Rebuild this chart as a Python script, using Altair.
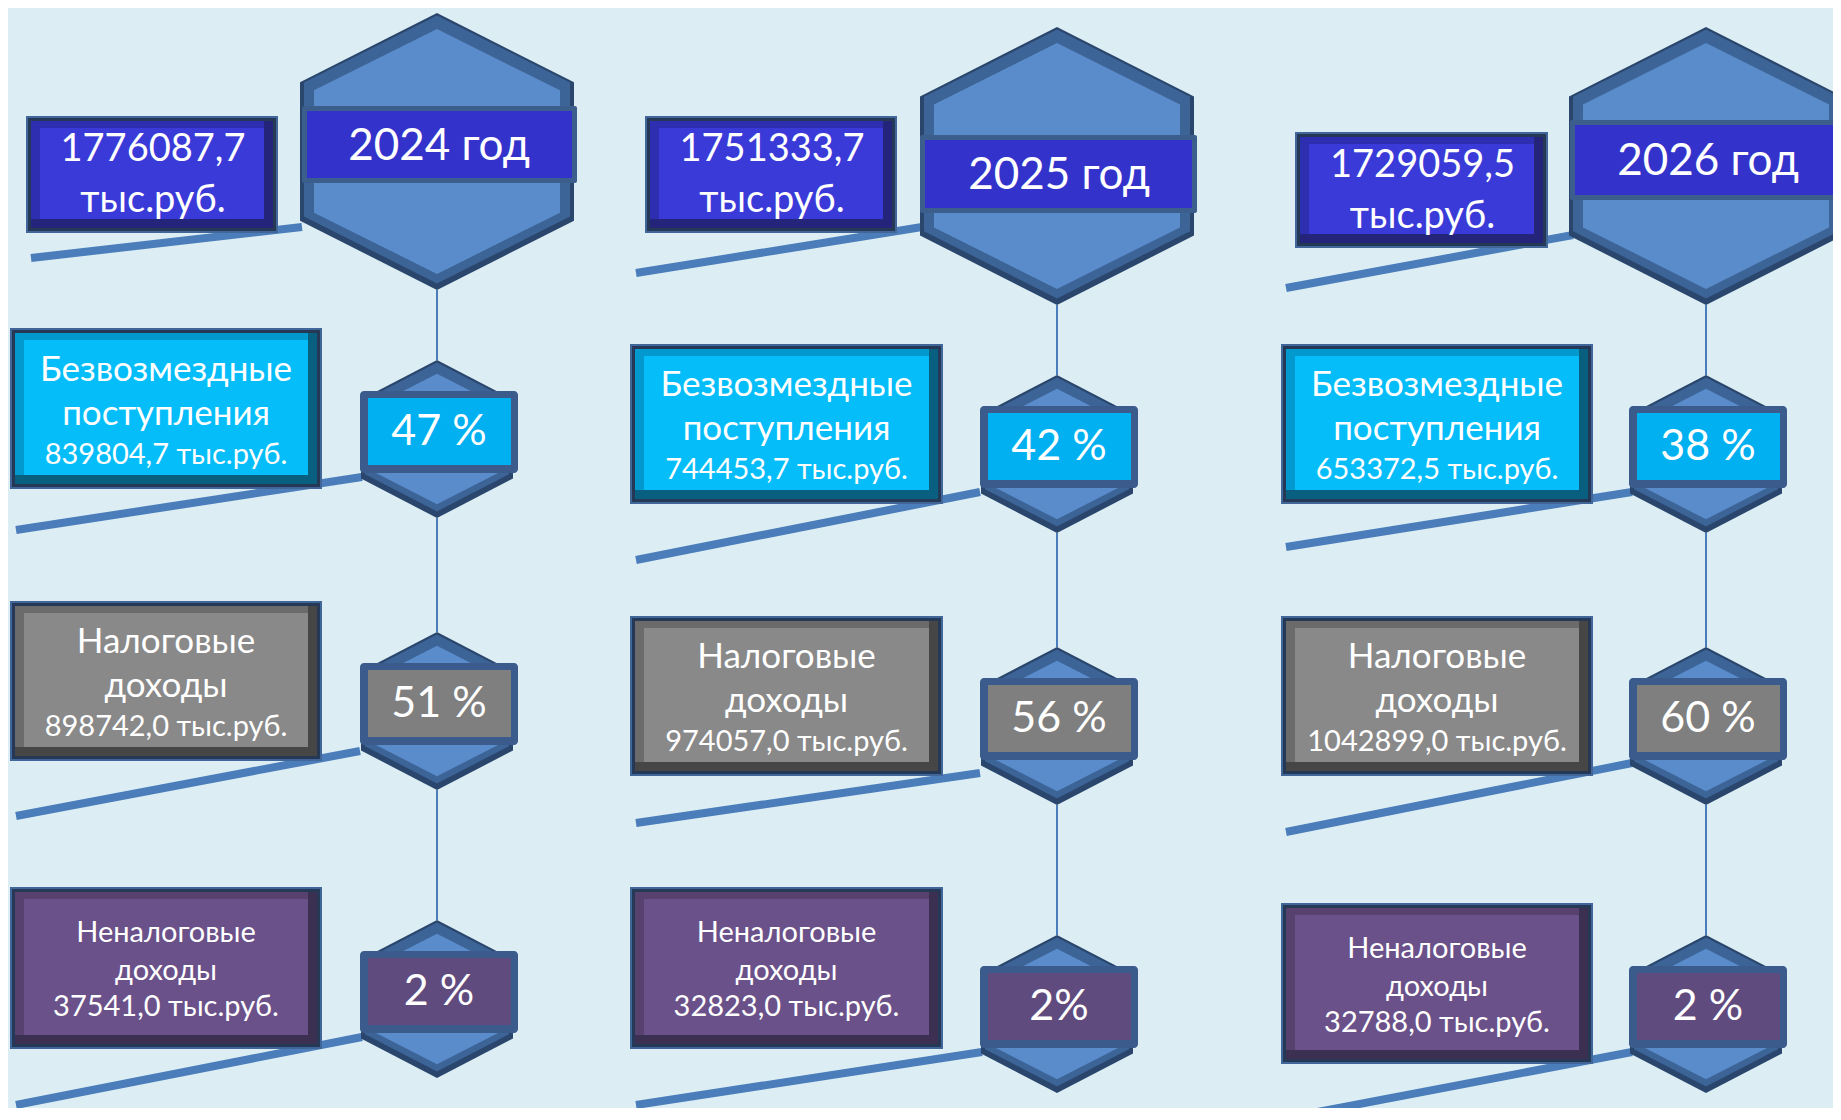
import altair as alt
import pandas as pd

# ---------------- data ----------------
years = ["2024 год", "2025 год", "2026 год"]
totals = ["1776087,7", "1751333,7", "1729059,5"]
total_unit = "тыс.руб."
cat_line1 = ["Безвозмездные", "Налоговые", "Неналоговые"]
cat_line2 = ["поступления", "доходы", "доходы"]
amounts = [["839804,7", "898742,0", "37541,0"],
           ["744453,7", "974057,0", "32823,0"],
           ["653372,5", "1042899,0", "32788,0"]]
percents = [["47 %", "51 %", "2 %"],
            ["42 %", "56 %", "2%"],
            ["38 %", "60 %", "2 %"]]

# ---------------- layout (reference pixel space) ----------------
W, H, M = 1841, 1120, 8
VW, VH = W - 2 * M, H - 2 * M - 4      # visible chart area so the page never overflows
col_cx = [437, 1057, 1706]
big_top = [13, 27, 27]
big_bot = [290, 305, 305]
big_hw = 137
year_box = [(302, 577, 106, 183), (920, 1197, 135, 213), (1570, 1850, 120, 200)]
total_box = [(27, 277, 117, 232), (646, 896, 117, 232), (1296, 1547, 133, 247)]
top_conn = [(31, 258, 302, 227), (636, 273, 922, 227), (1286, 288, 1573, 235)]
cat_x = [(11, 321), (631, 942), (1282, 1592)]
cat_y = [[(329, 488), (602, 760), (888, 1048)],
         [(345, 503), (617, 775), (888, 1048)],
         [(345, 503), (617, 775), (904, 1063)]]
hex_top = [[360, 632, 920], [375, 647, 935], [375, 647, 935]]
hex_h, hex_hw = 158, 76
row_conn = [[(16, 530, 362, 477), (16, 816, 360, 751), (16, 1105, 362, 1037)],
            [(636, 560, 980, 492), (636, 823, 980, 773), (636, 1105, 982, 1052)],
            [(1286, 547, 1632, 492), (1286, 832, 1632, 763), (1286, 1118, 1632, 1052)]]

# styles
BG = "#DCEEF4"
LINE = "#4A7DBA"
FRAME = "#253957"
FRAME_EDGE = "#41679A"
HEX_OUT, HEX_MID, HEX_FACE = "#2A466C", "#3C6497", "#5A8BCB"
cat_face = ["#05BDF8", "#898989", "#6A5189"]
cat_light = ["#0399CF", "#6B6B6B", "#56416F"]
cat_dark = ["#085F7F", "#464646", "#3B2F52"]
pct_face = ["#00B0F0", "#7F7F7F", "#604B7E"]
PCT_EDGE = "#3A5B8C"
TOT_FACE, TOT_LIGHT, TOT_DARK = "#3A3AD9", "#2E2EB0", "#24247A"
YEAR_FACE, YEAR_EDGE = "#3333CC", "#3B5E8C"
FONT = "Lato"

xs = alt.Scale(domain=[M, M + VW], zero=False, nice=False)
ys = alt.Scale(domain=[M, M + VH], zero=False, nice=False, reverse=True)


def X(f):
    return alt.X(f, type="quantitative", scale=xs, axis=None)


def Y(f):
    return alt.Y(f, type="quantitative", scale=ys, axis=None)


def rects(records, **mk):
    df = pd.DataFrame(records)
    return alt.Chart(df).mark_rect(**mk).encode(
        x=X("x"), x2="x2", y=Y("y"), y2="y2",
        fill=alt.Fill("fill:N", scale=None))


def rules(records, **mk):
    df = pd.DataFrame(records)
    return alt.Chart(df).mark_rule(**mk).encode(x=X("x"), x2="x2", y=Y("y"), y2="y2")


def texts(records, size):
    df = pd.DataFrame(records)
    return alt.Chart(df).mark_text(font=FONT, fontSize=size, color="white",
                                   align="center", baseline="middle").encode(
        x=X("x"), y=Y("y"), text="t:N")


def hex_pts(hid, cx, top, bot, hw, inset=0.0, shift=0.0):
    w = hw - inset
    t = top + inset * 1.15 - shift
    b = bot - inset * 1.15 - shift
    q = (b - t) / 4.0
    return [
        {"id": hid, "x": cx - w, "y": t + q, "y2": b - q},
        {"id": hid, "x": cx, "y": t, "y2": b},
        {"id": hid, "x": cx + w, "y": t + q, "y2": b - q},
    ]


def hex_layer(records, color):
    df = pd.DataFrame(records)
    return alt.Chart(df).mark_area(color=color, opacity=1).encode(
        x=X("x"), y=Y("y"), y2="y2", detail="id:N")


# ---------------- build records ----------------
thick, thin = [], []
hex_out, hex_mid, hex_face = [], [], []
frame, dark, light, face = [], [], [], []
pct_edge, pct_fill = [], []
year_edge, year_fill = [], []
t_year, t_total, t_unit, t_c1, t_c2, t_amt, t_c1s, t_c2s, t_amts, t_pct = ([] for _ in range(10))


def bevel(x1, x2, y1, y2, fc, lc, dc):
    frame.append({"x": x1, "x2": x2, "y": y1, "y2": y2, "fill": FRAME})
    dark.append({"x": x1 + 4, "x2": x2 - 4, "y": y1 + 4, "y2": y2 - 4, "fill": dc})
    light.append({"x": x1 + 4, "x2": x2 - 13, "y": y1 + 4, "y2": y2 - 13, "fill": lc})
    face.append({"x": x1 + 13, "x2": x2 - 13, "y": y1 + 11, "y2": y2 - 13, "fill": fc})


for c in range(3):
    cx = col_cx[c]
    a, b, d, e = top_conn[c]
    thick.append({"x": a, "y": b, "x2": d, "y2": e})
    for r in range(3):
        a, b, d, e = row_conn[c][r]
        thick.append({"x": a, "y": b, "x2": d, "y2": e})
    prev = big_bot[c]
    for r in range(3):
        thin.append({"x": cx, "x2": cx, "y": prev, "y2": hex_top[c][r]})
        prev = hex_top[c][r] + hex_h
    hid = f"big{c}"
    hex_out += hex_pts(hid, cx, big_top[c], big_bot[c], big_hw)
    hex_mid += hex_pts(hid, cx, big_top[c], big_bot[c], big_hw, 4, 2)
    hex_face += hex_pts(hid, cx, big_top[c], big_bot[c], big_hw, 14)
    x1, x2, y1, y2 = year_box[c]
    year_edge.append({"x": x1, "x2": x2, "y": y1, "y2": y2, "fill": YEAR_EDGE})
    year_fill.append({"x": x1 + 5, "x2": x2 - 5, "y": y1 + 5, "y2": y2 - 5, "fill": YEAR_FACE})
    t_year.append({"x": cx + 2, "y": (y1 + y2) / 2 + 2, "t": years[c]})
    x1, x2, y1, y2 = total_box[c]
    bevel(x1, x2, y1, y2, TOT_FACE, TOT_LIGHT, TOT_DARK)
    t_total.append({"x": (x1 + x2) / 2 + 1, "y": y1 + 33, "t": totals[c]})
    t_unit.append({"x": (x1 + x2) / 2 + 1, "y": y1 + 84, "t": total_unit})
    for r in range(3):
        x1, x2 = cat_x[c]
        y1, y2 = cat_y[c][r]
        bevel(x1, x2, y1, y2, cat_face[r], cat_light[r], cat_dark[r])
        mx, my = (x1 + x2) / 2, (y1 + y2) / 2
        amt = f"{amounts[c][r]} тыс.руб."
        if r < 2:
            t_c1.append({"x": mx, "y": my - 39, "t": cat_line1[r]})
            t_c2.append({"x": mx, "y": my + 5, "t": cat_line2[r]})
            t_amt.append({"x": mx, "y": my + 46, "t": amt})
        else:
            t_c1s.append({"x": mx, "y": my - 35, "t": cat_line1[r]})
            t_c2s.append({"x": mx, "y": my + 3, "t": cat_line2[r]})
            t_amts.append({"x": mx, "y": my + 39, "t": amt})
        ht = hex_top[c][r]
        hid = f"s{c}{r}"
        hex_out += hex_pts(hid, cx, ht, ht + hex_h, hex_hw)
        hex_mid += hex_pts(hid, cx, ht, ht + hex_h, hex_hw, 4, 2)
        hex_face += hex_pts(hid, cx, ht, ht + hex_h, hex_hw, 12)
        px1, px2, py1, py2 = cx - 77, cx + 81, ht + 31, ht + 113
        pct_edge.append({"x": px1, "x2": px2, "y": py1, "y2": py2, "fill": PCT_EDGE})
        pct_fill.append({"x": px1 + 8, "x2": px2 - 7, "y": py1 + 7, "y2": py2 - 8, "fill": pct_face[r]})
        t_pct.append({"x": (px1 + px2) / 2, "y": (py1 + py2) / 2, "t": percents[c][r]})

layers = [
    rules(thick, strokeWidth=8, color=LINE, strokeCap="butt"),
    rules(thin, strokeWidth=2, color=LINE),
    hex_layer(hex_out, HEX_OUT),
    hex_layer(hex_mid, HEX_MID),
    hex_layer(hex_face, HEX_FACE),
    rects(year_edge, cornerRadius=2),
    rects(year_fill),
    rects(frame, stroke=FRAME_EDGE, strokeWidth=2),
    rects(dark),
    rects(light),
    rects(face),
    rects(pct_edge, cornerRadius=4),
    rects(pct_fill),
    texts(t_year, 44),
    texts(t_total, 38),
    texts(t_unit, 38),
    texts(t_c1, 35),
    texts(t_c2, 35),
    texts(t_amt, 29),
    texts(t_c1s, 29),
    texts(t_c2s, 29),
    texts(t_amts, 29),
    texts(t_pct, 43),
]

chart = alt.layer(*layers).properties(
    width=VW, height=VH,
    autosize=alt.AutoSizeParams(type="none"),
    padding=0, background=BG,
).configure_view(stroke=None)

chart.save("out.html", embed_options={"renderer": "svg", "actions": False})
